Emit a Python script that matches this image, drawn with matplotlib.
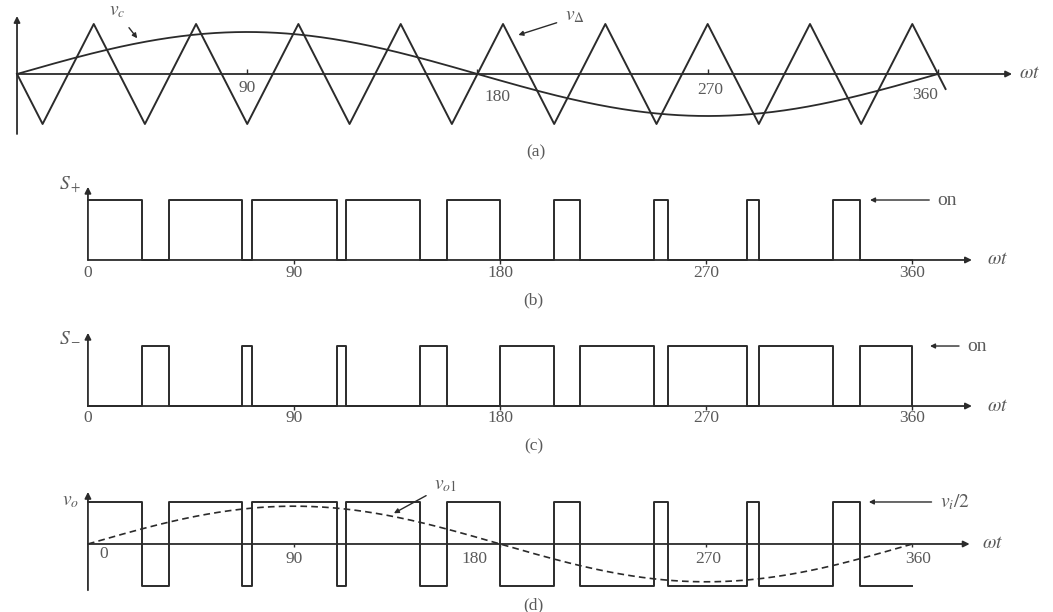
import matplotlib
matplotlib.use("Agg")
import matplotlib.pyplot as plt
import numpy as np

plt.rcParams["font.family"] = ["Liberation Serif", "DejaVu Serif"]
plt.rcParams["mathtext.fontset"] = "stix"

LINE = "#2b2b2b"
TEXT = "#5a5a5a"
NUM_FS = 12.5
SYM_FS = 14

# triangular carrier v_delta: vertices (deg, normalised value)
carrier_deg = [0, 10, 30, 50, 70, 90, 110, 130, 150, 170, 190, 210, 230,
               250, 270, 290, 310, 330, 350, 363]
carrier_val = [0, -1, 1, -1, 1, -1, 1, -1, 1, -1, 1, -1, 1,
               -1, 1, -1, 1, -1, 1, -0.3]

# control signal amplitude (relative to carrier peak) and fundamental of v_o
vc_amp = 0.84
vo1_amp = 0.90

# switching instants of S+ (on intervals, degrees)
s_plus_on = [(0, 23.6), (35.2, 67.3), (71.6, 108.6), (112.7, 144.8),
             (156.6, 180.0), (203.3, 214.8), (247.2, 253.4),
             (287.8, 293.1), (325.5, 337.0)]

tick_deg = [0, 90, 180, 270, 360]


def square_wave(on_list, high, low, end=360):
    bounds = [0]
    levels = []
    for a, b in on_list:
        if a > bounds[-1]:
            bounds.append(a)
            levels.append(low)
        levels.append(high)
        bounds.append(b)
    if bounds[-1] < end:
        levels.append(low)
        bounds.append(end)
    xs, ys = [], []
    for a, b, v in zip(bounds[:-1], bounds[1:], levels):
        xs += [a, b]
        ys += [v, v]
    return xs, ys


def draw_axes(ax, x_end, y_bot, y_top):
    arr = dict(arrowstyle="-|>", color=LINE, lw=1.3, mutation_scale=9,
               shrinkA=0, shrinkB=0)
    ax.annotate("", xy=(x_end, 0), xytext=(0, 0), arrowprops=arr)
    ax.annotate("", xy=(0, y_top), xytext=(0, y_bot), arrowprops=arr)


def wt_label(ax, x):
    ax.text(x, 0, r"$\omega t$", color=TEXT, fontsize=SYM_FS, ha="center",
            va="center")


def pointer():
    return dict(arrowstyle="-|>", color=LINE, lw=1.0, mutation_scale=7,
                shrinkA=4, shrinkB=0)


fig = plt.figure(figsize=(10.53, 6.12), dpi=100)
fig.patch.set_facecolor("white")

ax_a = fig.add_axes([0, 0.7304, 1, 0.2696])
ax_b = fig.add_axes([0, 0.4804, 1, 0.2418])
ax_c = fig.add_axes([0, 0.2451, 1, 0.2353])
ax_d = fig.add_axes([0, 0.0, 1, 0.2451])

ax_a.set_xlim(-6.65, 405.0)
ax_a.set_ylim(-1.82, 1.48)
for ax in (ax_b, ax_c, ax_d):
    ax.set_xlim(-38.4, 421.4)
ax_b.set_ylim(-0.967, 1.5)
ax_c.set_ylim(-0.933, 1.467)
ax_d.set_ylim(-1.619, 1.952)
for ax in (ax_a, ax_b, ax_c, ax_d):
    ax.axis("off")

# (a) carrier and control signal
theta = np.linspace(0, 360, 721)
vc = vc_amp * np.sin(np.radians(theta))
draw_axes(ax_a, 389, -1.2, 1.16)
ax_a.plot(carrier_deg, carrier_val, color=LINE, lw=1.4)
ax_a.plot(theta, vc, color=LINE, lw=1.3)
ax_a.vlines(tick_deg[1:], 0, 0.09, color=LINE, lw=1.0)
a_lbl = {90: (90, -0.28), 180: (188, -0.46), 270: (271, -0.32), 360: (355, -0.42)}
for t, (x, y) in a_lbl.items():
    ax_a.text(x, y, str(t), color=TEXT, fontsize=NUM_FS, ha="center", va="center")
wt_label(ax_a, 396)
ax_a.annotate(r"$v_c$", xy=(47, vc_amp * np.sin(np.radians(47)) + 0.1),
              xytext=(39, 1.24), color=TEXT, fontsize=SYM_FS, ha="center",
              va="center", arrowprops=pointer())
ax_a.annotate(r"$v_\Delta$", xy=(196, 0.78), xytext=(218, 1.14), color=TEXT,
              fontsize=SYM_FS, ha="center", va="center", arrowprops=pointer())
ax_a.text(203, -1.56, "(a)", color=TEXT, fontsize=NUM_FS, ha="center", va="center")

# (b) S+ gate signal
xb, yb = square_wave(s_plus_on, 1, 0)
draw_axes(ax_b, 386, 0, 1.22)
ax_b.plot(xb, yb, color=LINE, lw=1.4)
ax_b.vlines(tick_deg[1:], -0.07, 0, color=LINE, lw=1.0)
for t in tick_deg:
    ax_b.text(t, -0.22, str(t), color=TEXT, fontsize=NUM_FS, ha="center", va="center")
wt_label(ax_b, 397)
ax_b.text(-3.0, 1.25, r"$S_+$", color=TEXT, fontsize=SYM_FS, ha="right", va="center")
ax_b.annotate("on", xy=(341.5, 1.0), xytext=(371, 1.0), color=TEXT, fontsize=SYM_FS,
              ha="left", va="center", arrowprops=pointer())
ax_b.text(194.5, -0.67, "(b)", color=TEXT, fontsize=NUM_FS, ha="center", va="center")

# (c) S- gate signal, complement of S+
xc, yc = square_wave(s_plus_on, 0, 1)
xc, yc = xc + [360], yc + [0]
draw_axes(ax_c, 386, 0, 1.22)
ax_c.plot(xc, yc, color=LINE, lw=1.4)
ax_c.vlines(tick_deg[1:], -0.07, 0, color=LINE, lw=1.0)
for t in tick_deg:
    ax_c.text(t, -0.2, str(t), color=TEXT, fontsize=NUM_FS, ha="center", va="center")
wt_label(ax_c, 397)
ax_c.text(-3.0, 1.15, r"$S_-$", color=TEXT, fontsize=SYM_FS, ha="right", va="center")
ax_c.annotate("on", xy=(367.7, 1.0), xytext=(384, 1.0), color=TEXT, fontsize=SYM_FS,
              ha="left", va="center", arrowprops=pointer())
ax_c.text(194.5, -0.68, "(c)", color=TEXT, fontsize=NUM_FS, ha="center", va="center")

# (d) output voltage and its fundamental
xd, yd = square_wave(s_plus_on, 1, -1)
vo1 = vo1_amp * np.sin(np.radians(theta))
draw_axes(ax_d, 385, -1.1, 1.24)
ax_d.plot(xd, yd, color=LINE, lw=1.4)
ax_d.plot(theta, vo1, color=LINE, lw=1.2, ls=(0, (4, 2.5)))
ax_d.vlines(tick_deg[1:], -0.08, 0, color=LINE, lw=1.0)
d_lbl = {0: (7, -0.23), 90: (90, -0.35), 180: (168.6, -0.35),
         270: (271, -0.35), 360: (362.6, -0.35)}
for t, (x, y) in d_lbl.items():
    ax_d.text(x, y, str(t), color=TEXT, fontsize=NUM_FS, ha="center", va="center")
wt_label(ax_d, 395)
ax_d.text(-4.0, 1.0, r"$v_o$", color=TEXT, fontsize=SYM_FS, ha="right", va="center")
ax_d.annotate(r"$v_{o1}$", xy=(133.6, vo1_amp * np.sin(np.radians(133.6)) + 0.08),
              xytext=(156, 1.4), color=TEXT, fontsize=SYM_FS, ha="center",
              va="center", arrowprops=pointer())
ax_d.annotate(r"$v_i/2$", xy=(341, 1.0), xytext=(372, 1.0), color=TEXT,
              fontsize=SYM_FS, ha="left", va="center", arrowprops=pointer())
ax_d.text(194.5, -1.45, "(d)", color=TEXT, fontsize=NUM_FS, ha="center", va="center")

fig.savefig("out.png", dpi=100, facecolor="white")
